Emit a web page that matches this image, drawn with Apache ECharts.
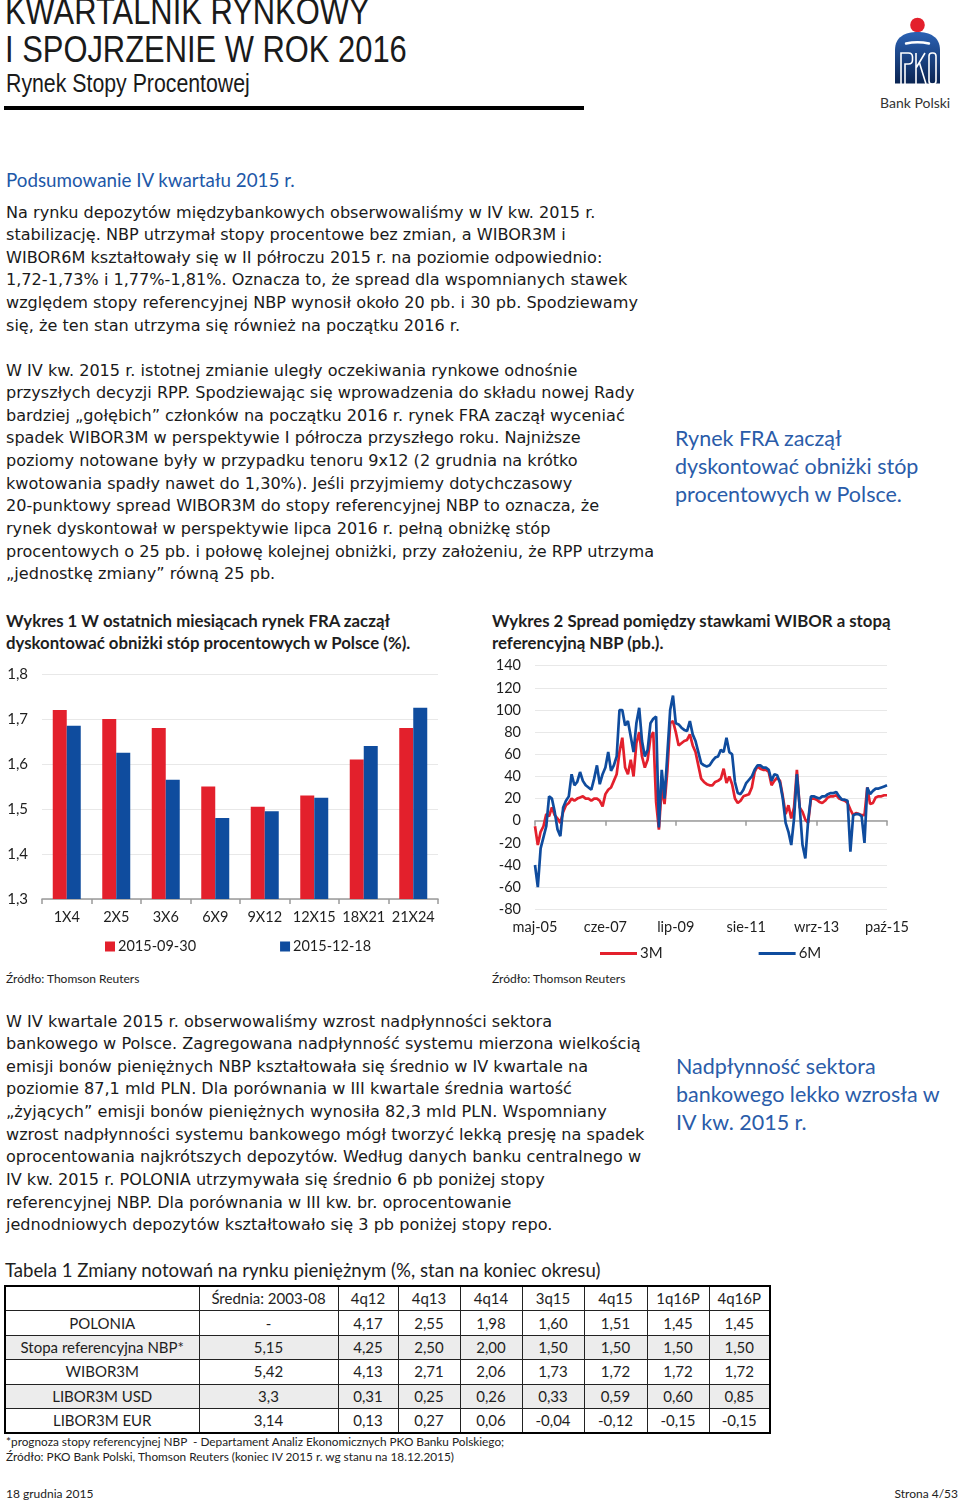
<!DOCTYPE html>
<html lang="pl">
<head>
<meta charset="utf-8">
<script src="https://cdn.jsdelivr.net/npm/echarts@6/dist/echarts.min.js"></script>
<style>
  html, body { margin:0; padding:0; background:#fff; }
  body { width:960px; height:1503px; position:relative; overflow:hidden; font-family:'Lato', 'Noto Sans', sans-serif; color:#1e1e1e; }
  .abs { position:absolute; white-space:nowrap; }
  .hdr { font-family:'Liberation Sans', sans-serif; color:#1a1a1a; transform:scaleX(0.835); transform-origin:0 0; }
  .body { font-family:'DejaVu Sans', sans-serif; font-size:16.1px; line-height:22.65px; left:6px; color:#1a1a1a; }
  .note { font-size:21.5px; line-height:28px; color:#2a5ca9; left:675px; }
  .ctitle { font-size:16.8px; line-height:22.4px; font-weight:bold; color:#1e1e1e; }
  .src { font-size:12px; color:#222; }
  table { border-collapse:collapse; table-layout:fixed; position:absolute; left:4px; top:1285px; font-size:15px; color:#1e1e1e; border:2px solid #000; }
  td { border:1px solid #222; text-align:center; height:23.4px; padding:0; line-height:23px; white-space:nowrap; }
  tr.g td { background:#ececec; }
</style>
</head>
<body>
<!-- Header -->
<div class="abs hdr" style="left:5px;top:-9px;font-size:37px;line-height:42px;">KWARTALNIK RYNKOWY</div>
<div class="abs hdr" style="left:5px;top:29px;font-size:37px;line-height:42px;">I SPOJRZENIE W ROK 2016</div>
<div class="abs hdr" style="left:6px;top:68px;font-size:25.5px;line-height:30px;">Rynek Stopy Procentowej</div>
<div class="abs" style="left:4px;top:106px;width:580px;height:4px;background:#000;"></div>

<svg class="abs" style="left:890px;top:15px" width="56" height="72" viewBox="890 15 56 72">
  <defs><linearGradient id="pkog" x1="0" y1="0" x2="0" y2="1"><stop offset="0" stop-color="#2b62b4"/><stop offset="1" stop-color="#0a2452"/></linearGradient></defs>
  <circle cx="917.5" cy="25" r="7.3" fill="#e3202c"/>
  <path d="M895,83.5 L895,50 C895,37 905,32 917.5,32 C930,32 940,37 940,50 L940,83.5 Z" fill="url(#pkog)"/>
  <path d="M906,43.5 Q917.5,41 929,43.5" stroke="#fff" stroke-width="2.4" fill="none" stroke-linecap="round"/>
  <g stroke="#fff" stroke-width="1.6" fill="none">
    <path d="M901,84 V53 H908.5 Q912.5,53 912.5,57 V60 Q912.5,64 908.5,64 H905 V84"/>
    <path d="M916,84 V53 M916,68 L925,53 M919.5,63 L926,84"/>
    <rect x="929" y="53" width="7" height="31" rx="3"/>
  </g>
</svg>
<div class="abs" style="left:880px;top:94px;font-size:14px;line-height:18px;color:#333;">Bank Polski</div>

<div class="abs" style="left:6px;top:168px;font-size:18.8px;line-height:24px;color:#1d58a8;">Podsumowanie IV kwartału 2015 r.</div>

<div class="abs body" style="top:201.5px;">
Na rynku depozytów międzybankowych obserwowaliśmy w IV kw. 2015 r.<br>
stabilizację. NBP utrzymał stopy procentowe bez zmian, a WIBOR3M i<br>
WIBOR6M kształtowały się w II półroczu 2015 r. na poziomie odpowiednio:<br>
1,72-1,73% i 1,77%-1,81%. Oznacza to, że spread dla wspomnianych stawek<br>
względem stopy referencyjnej NBP wynosił około 20 pb. i 30 pb. Spodziewamy<br>
się, że ten stan utrzyma się również na początku 2016 r.
</div>

<div class="abs body" style="top:359.5px;">
W IV kw. 2015 r. istotnej zmianie uległy oczekiwania rynkowe odnośnie<br>
przyszłych decyzji RPP. Spodziewając się wprowadzenia do składu nowej Rady<br>
bardziej „gołębich” członków na początku 2016 r. rynek FRA zaczął wyceniać<br>
spadek WIBOR3M w perspektywie I półrocza przyszłego roku. Najniższe<br>
poziomy notowane były w przypadku tenoru 9x12 (2 grudnia na krótko<br>
kwotowania spadły nawet do 1,30%). Jeśli przyjmiemy dotychczasowy<br>
20-punktowy spread WIBOR3M do stopy referencyjnej NBP to oznacza, że<br>
rynek dyskontował w perspektywie lipca 2016 r. pełną obniżkę stóp<br>
procentowych o 25 pb. i połowę kolejnej obniżki, przy założeniu, że RPP utrzyma<br>
„jednostkę zmiany” równą 25 pb.
</div>

<div class="abs note" style="top:424px;">Rynek FRA zaczął<br>dyskontować obniżki stóp<br>procentowych w Polsce.</div>

<div class="abs ctitle" style="left:6px;top:609.5px;">Wykres 1 W ostatnich miesiącach rynek FRA zaczął<br>dyskontować obniżki stóp procentowych w Polsce (%).</div>
<div class="abs ctitle" style="left:492px;top:609.5px;">Wykres 2 Spread pomiędzy stawkami WIBOR a stopą<br>referencyjną NBP (pb.).</div>

<div id="chart1" class="abs" style="left:0px;top:655px;width:480px;height:310px;"></div>
<div id="chart2" class="abs" style="left:485px;top:655px;width:475px;height:310px;"></div>

<div class="abs src" style="left:6px;top:971px;">Źródło: Thomson Reuters</div>
<div class="abs src" style="left:492px;top:971px;">Źródło: Thomson Reuters</div>

<div class="abs body" style="top:1010.5px;">
W IV kwartale 2015 r. obserwowaliśmy wzrost nadpłynności sektora<br>
bankowego w Polsce. Zagregowana nadpłynność systemu mierzona wielkością<br>
emisji bonów pieniężnych NBP kształtowała się średnio w IV kwartale na<br>
poziomie 87,1 mld PLN. Dla porównania w III kwartale średnia wartość<br>
„żyjących” emisji bonów pieniężnych wynosiła 82,3 mld PLN. Wspomniany<br>
wzrost nadpłynności systemu bankowego mógł tworzyć lekką presję na spadek<br>
oprocentowania najkrótszych depozytów. Według danych banku centralnego w<br>
IV kw. 2015 r. POLONIA utrzymywała się średnio 6 pb poniżej stopy<br>
referencyjnej NBP. Dla porównania w III kw. br. oprocentowanie<br>
jednodniowych depozytów kształtowało się 3 pb poniżej stopy repo.
</div>

<div class="abs note" style="top:1052px;left:676px;">Nadpłynność sektora<br>bankowego lekko wzrosła w<br>IV kw. 2015 r.</div>

<div class="abs" style="left:5px;top:1258px;font-size:18.6px;line-height:24px;color:#1e1e1e;">Tabela 1 Zmiany notowań na rynku pieniężnym (%, stan na koniec okresu)</div>

<table id="tbl">
  <colgroup>
    <col style="width:194px"><col style="width:139px"><col style="width:60px"><col style="width:62px"><col style="width:62px"><col style="width:62px"><col style="width:63px"><col style="width:62px"><col style="width:61px">
  </colgroup>
  <tbody id="tbody"></tbody>
</table>

<div class="abs src" style="left:6px;top:1434px;line-height:15px;font-size:11.8px;">*prognoza stopy referencyjnej NBP&nbsp; - Departament Analiz Ekonomicznych PKO Banku Polskiego;<br>Źródło: PKO Bank Polski, Thomson Reuters (koniec IV 2015 r. wg stanu na 18.12.2015)</div>

<div class="abs src" style="left:6px;top:1486px;">18 grudnia 2015</div>
<div class="abs src" style="right:2px;top:1486px;">Strona 4/53</div>

<script>
// ---------- Chart 1 data: FRA ----------
const fraTenors = ['1X4', '2X5', '3X6', '6X9', '9X12', '12X15', '18X21', '21X24'];
const fra20150930 = [1.72, 1.70, 1.68, 1.55, 1.505, 1.53, 1.61, 1.68];
const fra20151218 = [1.685, 1.625, 1.565, 1.48, 1.495, 1.525, 1.64, 1.725];
const fraSeriesNames = ['2015-09-30', '2015-12-18'];

// ---------- Chart 2 data: WIBOR spread vs NBP reference rate (monthly, maj-05 .. paź-15) ----------
const monthAbbr = ['sty', 'lut', 'mar', 'kwi', 'maj', 'cze', 'lip', 'sie', 'wrz', 'paź', 'lis', 'gru'];
const spreadStartYear = 2005;
const spreadStartMonth = 4; // maj
const spread3M = [
  -5, -22, -10, -5, 6, 4, 12, 5, 2, -2,
  8, 14, 16, 20, 18, 20, 21, 22, 20, 20,
  18, 20, 20, 18, 13, 24, 28, 30, 36, 42,
  62, 75, 48, 42, 55, 40, 70, 80, 58, 48,
  55, 75, 80, 17, -8, 30, 15, 45, 88, 90,
  80, 68, 70, 72, 73, 78, 68, 62, 50, 38,
  35, 33, 32, 32, 35, 36, 38, 47, 34, 40,
  33, 20, 16, 18, 22, 23, 24, 30, 44, 49,
  47, 46, 46, 44, 32, 36, 39, 36, 22, 6,
  14, 2, 12, 46, 12, 8, 1, -2, 20, 20,
  19, 17, 16, 18, 21, 22, 22, 23, 20, 19,
  18, 16, 10, 5, 7, 6, 5, 5, 30, 15,
  16, 21, 22, 22, 23, 23
];
const spread6M = [
  -40, -60, -25, -15, -5, 22, 20, 8, -8, -14,
  12, 18, 22, 42, 32, 35, 44, 36, 32, 30,
  28, 38, 50, 33, 42, 48, 62, 45, 50, 58,
  100, 100, 86, 90, 76, 62, 88, 102, 72, 58,
  64, 88, 92, 94, -6, 46, 20, 60, 100, 113,
  88, 87, 84, 82, 81, 90, 78, 72, 62, 52,
  50, 49, 50, 54, 57, 58, 64, 62, 75, 62,
  60, 35, 25, 24, 28, 34, 37, 40, 46, 50,
  50, 48, 48, 46, 36, 42, 41, 34, 20, -2,
  -10, -22, 2, 42, 12, -22, -34, 0, 22, 22,
  21, 20, 22, 22, 24, 25, 25, 26, 22, 19,
  19, 18, -28, 5, 6, 6, 4, -20, 30, 24,
  27, 29, 29, 30, 31, 32
];
const spreadSeriesNames = ['3M', '6M'];

// ---------- Table data ----------
const tableHeader = ['', 'Średnia: 2003-08', '4q12', '4q13', '4q14', '3q15', '4q15', '1q16P', '4q16P'];
const tableRowNames = ['POLONIA', 'Stopa referencyjna NBP*', 'WIBOR3M', 'LIBOR3M USD', 'LIBOR3M EUR'];
const tablePOLONIA = ['-', '4,17', '2,55', '1,98', '1,60', '1,51', '1,45', '1,45'];
const tableStopaRef = ['5,15', '4,25', '2,50', '2,00', '1,50', '1,50', '1,50', '1,50'];
const tableWIBOR3M = ['5,42', '4,13', '2,71', '2,06', '1,73', '1,72', '1,72', '1,72'];
const tableLIBORUSD = ['3,3', '0,31', '0,25', '0,26', '0,33', '0,59', '0,60', '0,85'];
const tableLIBOREUR = ['3,14', '0,13', '0,27', '0,06', '-0,04', '-0,12', '-0,15', '-0,15'];

// ---------- Colours ----------
const RED = '#e3202c';
const BLUE = '#0f4c9e';
const FONT = 'Lato';

// build table
(function () {
  const tb = document.getElementById('tbody');
  const rows = [tableHeader, [tableRowNames[0]].concat(tablePOLONIA), [tableRowNames[1]].concat(tableStopaRef),
    [tableRowNames[2]].concat(tableWIBOR3M), [tableRowNames[3]].concat(tableLIBORUSD), [tableRowNames[4]].concat(tableLIBOREUR)];
  rows.forEach(function (r, i) {
    const tr = document.createElement('tr');
    if (i === 2 || i === 4) tr.className = 'g';
    r.forEach(function (c) {
      const td = document.createElement('td');
      td.textContent = c;
      tr.appendChild(td);
    });
    tb.appendChild(tr);
  });
})();

// categories for chart 2
const spreadCategories = spread6M.map(function (_, i) {
  const m = spreadStartMonth + i;
  const y = spreadStartYear + Math.floor(m / 12);
  return monthAbbr[m % 12] + '-' + String(y).slice(2);
});

// ---------- Chart 1 ----------
const c1 = echarts.init(document.getElementById('chart1'), null, { renderer: 'canvas' });
c1.setOption({
  animation: false,
  textStyle: { fontFamily: FONT },
  grid: { left: 42, top: 19, width: 396, height: 225 },
  legend: {
    left: 100, top: 279, itemGap: 84, icon: 'rect', itemWidth: 10, itemHeight: 10,
    textStyle: { fontFamily: FONT, fontSize: 14.5, color: '#1e1e1e', padding: [0, 0, 0, -2] },
    data: fraSeriesNames
  },
  xAxis: {
    type: 'category', data: fraTenors,
    axisLine: { lineStyle: { color: '#9a9a9a', width: 1.5 } },
    axisTick: { show: true, length: 5, lineStyle: { color: '#9a9a9a', width: 1.5 } },
    axisLabel: { interval: 0, fontFamily: FONT, fontSize: 14.5, color: '#1e1e1e', margin: 11 }
  },
  yAxis: {
    type: 'value', min: 1.3, max: 1.8, interval: 0.1,
    axisLine: { show: false }, axisTick: { show: false },
    splitLine: { lineStyle: { color: '#e8e8e8', width: 1 } },
    axisLabel: { fontFamily: FONT, fontSize: 15, color: '#1e1e1e', margin: 14,
      formatter: function (v) { return v.toFixed(1).replace('.', ','); } }
  },
  series: [
    { name: fraSeriesNames[0], type: 'bar', data: fra20150930, barWidth: 14, barGap: '0%', itemStyle: { color: RED } },
    { name: fraSeriesNames[1], type: 'bar', data: fra20151218, barWidth: 14, barGap: '0%', itemStyle: { color: BLUE } }
  ]
});

// ---------- Chart 2 ----------
const c2 = echarts.init(document.getElementById('chart2'), null, { renderer: 'canvas' });
c2.setOption({
  animation: false,
  textStyle: { fontFamily: FONT },
  grid: { left: 50, top: 10.7, width: 352, height: 243.6 },
  legend: {
    left: 110, top: 286, itemGap: 96, icon: 'rect', itemWidth: 37, itemHeight: 3,
    textStyle: { fontFamily: FONT, fontSize: 15, color: '#1e1e1e', padding: [0, 0, 0, -2] },
    data: spreadSeriesNames
  },
  xAxis: [
    {
      type: 'category', data: spreadCategories, boundaryGap: false, position: 'bottom',
      axisLine: { onZero: true, lineStyle: { color: '#9a9a9a', width: 1.5 } },
      axisTick: { show: true, interval: 24, length: 5, lineStyle: { color: '#9a9a9a', width: 1.5 } },
      axisLabel: { show: false }
    },
    {
      type: 'category', data: spreadCategories, boundaryGap: false, position: 'bottom',
      axisLine: { show: false, onZero: false }, axisTick: { show: false },
      axisLabel: { interval: 24, fontFamily: FONT, fontSize: 14.5, color: '#1e1e1e', margin: 11 }
    }
  ],
  yAxis: {
    type: 'value', min: -80, max: 140, interval: 20,
    axisLine: { show: false }, axisTick: { show: false },
    splitLine: { lineStyle: { color: '#e8e8e8', width: 1 } },
    axisLabel: { fontFamily: FONT, fontSize: 14.5, color: '#1e1e1e', margin: 14 }
  },
  series: [
    { name: spreadSeriesNames[0], type: 'line', xAxisIndex: 0, data: spread3M, showSymbol: false, symbol: 'none',
      lineStyle: { color: RED, width: 2.7 }, itemStyle: { color: RED } },
    { name: spreadSeriesNames[1], type: 'line', xAxisIndex: 0, data: spread6M, showSymbol: false, symbol: 'none',
      lineStyle: { color: BLUE, width: 2.7 }, itemStyle: { color: BLUE } }
  ]
});
</script>
</body>
</html>
